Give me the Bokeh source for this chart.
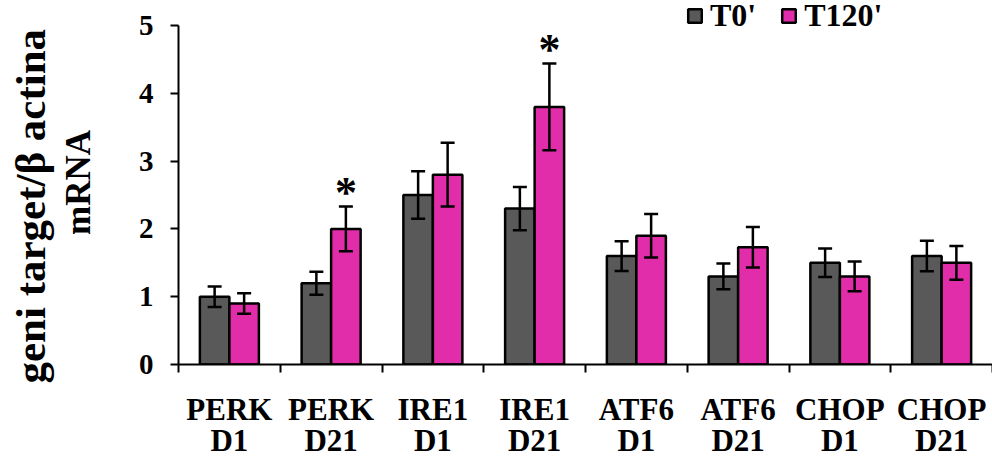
from bokeh.plotting import figure
from bokeh.models import (ColumnDataSource, Range1d, LinearAxis,
                          FixedTicker, Legend, LegendItem, Title)
from bokeh.core.properties import value
from bokeh.embed import file_html
from bokeh.resources import INLINE

# Relative mRNA expression (target gene / beta-actin), mean and error
groups = ["PERK\nD1", "PERK\nD21", "IRE1\nD1", "IRE1\nD21",
          "ATF6\nD1", "ATF6\nD21", "CHOP\nD1", "CHOP\nD21"]
t0 = [1.0, 1.2, 2.5, 2.3, 1.6, 1.3, 1.5, 1.6]
t0_err = [0.15, 0.17, 0.35, 0.32, 0.22, 0.19, 0.21, 0.225]
t120 = [0.9, 2.0, 2.8, 3.8, 1.9, 1.73, 1.3, 1.5]
t120_err = [0.15, 0.33, 0.47, 0.64, 0.32, 0.30, 0.22, 0.25]
significant = [False, True, False, True, False, False, False, False]
y_ticks = [0, 1, 2, 3, 4, 5]
y_title = ["geni target/\u03b2 actina", "mRNA"]

FONT = "Liberation Serif"
C_T0 = "#595959"
C_T120 = "#E22DAA"

n = len(groups)
centers = [i + 0.5 for i in range(n)]
off = 0.145
bw = 0.29

src = ColumnDataSource(dict(
    x0=[c - off for c in centers], x1=[c + off for c in centers],
    t0=t0, t120=t120,
    t0_lo=[v - e for v, e in zip(t0, t0_err)],
    t0_hi=[v + e for v, e in zip(t0, t0_err)],
    t120_lo=[v - e for v, e in zip(t120, t120_err)],
    t120_hi=[v + e for v, e in zip(t120, t120_err)],
))
sig_src = ColumnDataSource(dict(
    x=[c + off for c, s in zip(centers, significant) if s],
    top=[v + e for v, e, s in zip(t120, t120_err, significant) if s],
    mark=["*" for s in significant if s],
))

p = figure(x_range=Range1d(0, n), y_range=Range1d(0, 5.37),
           width=992, height=463, output_backend="svg", toolbar_location=None,
           x_axis_location=None, y_axis_location=None,
           min_border_left=178, min_border_right=0, min_border_top=0,
           min_border_bottom=99)
p.outline_line_color = None
p.xgrid.visible = False
p.ygrid.visible = False

r0 = p.vbar(x="x0", top="t0", width=bw, source=src,
            fill_color=C_T0, line_color="black", line_width=2.5)
r1 = p.vbar(x="x1", top="t120", width=bw, source=src,
            fill_color=C_T120, line_color="black", line_width=2.5)

# error bars with flat caps
for xs, lo, hi in (("x0", "t0_lo", "t0_hi"), ("x1", "t120_lo", "t120_hi")):
    p.segment(x0=xs, y0=lo, x1=xs, y1=hi, source=src, line_color="black", line_width=2.5)
    p.scatter(x=xs, y=lo, source=src, marker="dash", size=14, line_color="black", line_width=2.5)
    p.scatter(x=xs, y=hi, source=src, marker="dash", size=14, line_color="black", line_width=2.5)

# significance markers
p.text(x="x", y="top", text="mark", source=sig_src,
       text_font=value(FONT), text_font_size="44px", text_font_style="bold",
       text_align="center", text_baseline="middle", y_offset=-14, text_color="black")

# y axis, with the second title line as its own label
yax = LinearAxis(ticker=FixedTicker(ticks=y_ticks), bounds=(0, 5), axis_label=y_title[1])
yax.axis_line_width = 2
yax.major_tick_line_width = 2
yax.major_tick_out = 8
yax.major_tick_in = 0
yax.minor_tick_out = 0
yax.minor_tick_in = 0
yax.major_label_standoff = 17
yax.major_label_text_font = FONT
yax.major_label_text_font_size = "29px"
yax.major_label_text_font_style = "bold"
yax.major_label_text_color = "black"
yax.axis_label_standoff = 38
yax.axis_label_text_font = FONT
yax.axis_label_text_font_size = "35px"
yax.axis_label_text_font_style = "bold"
yax.axis_label_text_color = "black"
p.add_layout(yax, "left")

# first title line, further out
p.add_layout(Title(text=y_title[0], align="left", offset=-19, standoff=4,
                   text_font=FONT, text_font_size="43px", text_font_style="bold",
                   text_color="black"), "left")

# x axis line with ticks between the groups
edges = list(range(n + 1))
xedge = LinearAxis(ticker=FixedTicker(ticks=edges),
                   major_label_overrides={e: "" for e in edges})
xedge.axis_line_width = 2
xedge.major_tick_line_width = 2
xedge.major_tick_out = 8
xedge.major_tick_in = 0
xedge.minor_tick_out = 0
xedge.minor_tick_in = 0
xedge.major_label_standoff = 0
p.add_layout(xedge, "below")

# group labels under each pair of bars
xcat = LinearAxis(ticker=FixedTicker(ticks=centers),
                  major_label_overrides={c: g for c, g in zip(centers, groups)})
xcat.axis_line_color = None
xcat.major_tick_line_color = None
xcat.major_tick_out = 0
xcat.major_tick_in = 0
xcat.minor_tick_out = 0
xcat.minor_tick_in = 0
xcat.major_label_standoff = 19
xcat.major_label_text_font = FONT
xcat.major_label_text_font_size = "31px"
xcat.major_label_text_font_style = "bold"
xcat.major_label_text_color = "black"
xcat.major_label_text_line_height = 0.9
p.add_layout(xcat, "below")

legend = Legend(items=[LegendItem(label="T0'", renderers=[r0]),
                       LegendItem(label="T120'", renderers=[r1])],
                orientation="horizontal", location=(508, 330),
                glyph_width=17, glyph_height=17, label_standoff=7, spacing=24,
                padding=0, margin=0, border_line_color=None, background_fill_alpha=0,
                label_text_font=FONT, label_text_font_size="32px",
                label_text_font_style="bold", label_text_color="black",
                label_text_line_height=0.85)
p.add_layout(legend, "center")

open("out.html", "w").write(file_html(p, INLINE))
